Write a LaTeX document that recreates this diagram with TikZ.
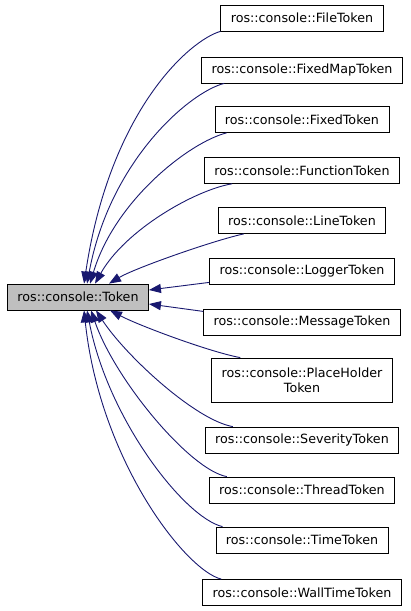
\documentclass[tikz,border=0pt]{standalone}
\usepackage{fontspec}
\setmainfont{DejaVu Sans}
\usetikzlibrary{arrows.meta}
\definecolor{edgecol}{HTML}{191970}
\begin{document}
\begin{tikzpicture}[x=1pt,y=-1pt,
  cls/.style={draw=black, line width=0.8pt, fill=white, font=\fontsize{12.7}{15}\selectfont,
    inner xsep=10pt, inner ysep=0pt, minimum height=26pt, align=center},
  edge/.style={draw=edgecol, line width=0.9pt, -{Triangle[length=12pt,width=9pt]}}]
\useasboundingbox (0,0) rectangle (411,611);
\node[cls, fill=gray!50] (tok) at (78,297) {ros::console::Token};
\node[cls] (file) at (302,18) {ros::console::FileToken};
\node[cls] (fixmap) at (302,70) {ros::console::FixedMapToken};
\node[cls] (fixed) at (302,119.5) {ros::console::FixedToken};
\node[cls] (func) at (302,170.4) {ros::console::FunctionToken};
\node[cls] (line) at (302,220.5) {ros::console::LineToken};
\node[cls] (logger) at (302,271) {ros::console::LoggerToken};
\node[cls] (msg) at (302,322.4) {ros::console::MessageToken};
\node[cls, minimum height=44pt] (place) at (302,380) {ros::console::PlaceHolder\\Token};
\node[cls] (sev) at (302,440) {ros::console::SeverityToken};
\node[cls] (thread) at (302,490) {ros::console::ThreadToken};
\node[cls] (time) at (302,540) {ros::console::TimeToken};
\node[cls] (wall) at (302,592.5) {ros::console::WallTimeToken};
% top group
\draw[edge] (file.south west) .. controls (190,40) and (110,110) .. ([xshift=77pt]tok.north west);
\draw[edge] ([xshift=23pt]fixmap.south west) .. controls (190,92) and (110,160) .. ([xshift=80pt]tok.north west);
\draw[edge] ([xshift=12pt]fixed.south west) .. controls (190,142) and (115,200) .. ([xshift=83pt]tok.north west);
\draw[edge] ([xshift=28pt]func.south west) .. controls (195,190) and (125,230) .. ([xshift=88pt]tok.north west);
\draw[edge] ([xshift=26pt]line.south west) .. controls (215,240) and (135,268) .. ([xshift=102pt]tok.north west);
\draw[edge] ([yshift=2pt]logger.south west) -- ([yshift=7pt]tok.east);
\draw[edge] ([yshift=11pt]msg.west) -- ([yshift=-7pt]tok.east);
% bottom group
\draw[edge] ([xshift=29pt]place.north west) .. controls (210,352) and (140,326) .. ([xshift=103pt]tok.south west);
\draw[edge] ([xshift=28pt]sev.north west) .. controls (195,420) and (125,355) .. ([xshift=89pt]tok.south west);
\draw[edge] ([xshift=18pt]thread.north west) .. controls (190,470) and (115,380) .. ([xshift=84pt]tok.south west);
\draw[edge] ([xshift=7pt]time.north west) .. controls (185,518) and (108,420) .. ([xshift=80pt]tok.south west);
\draw[edge] ([xshift=19pt]wall.north west) .. controls (185,570) and (100,460) .. ([xshift=77pt]tok.south west);
\end{tikzpicture}
\end{document}
